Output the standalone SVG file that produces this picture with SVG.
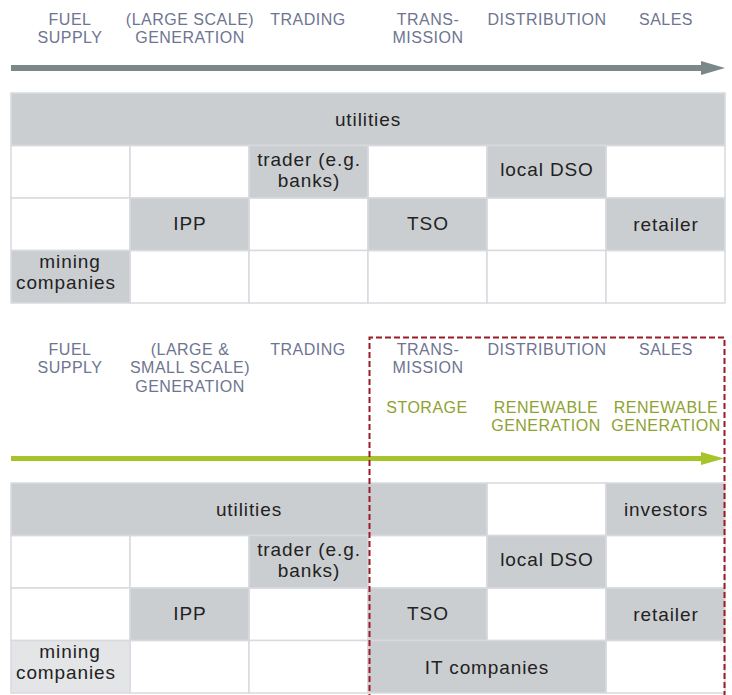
<svg xmlns="http://www.w3.org/2000/svg" width="732" height="695" viewBox="0 0 732 695">
<style>
.hd{font-family:"Liberation Sans",Arial,sans-serif;font-size:16px;fill:#6e7591;letter-spacing:0.5px;text-anchor:middle}
.gr{font-family:"Liberation Sans",Arial,sans-serif;font-size:16px;fill:#8ea230;letter-spacing:0.5px;text-anchor:middle}
.lb{font-family:"Liberation Sans",Arial,sans-serif;font-size:19px;fill:#222;letter-spacing:0.9px;text-anchor:middle}
.w{fill:#fff;stroke:#d8dae0;stroke-width:1.5}
.g{fill:#cbced1;stroke:#d8dae0;stroke-width:1.5}
.lg{fill:#e3e5e6;stroke:#d8dae0;stroke-width:1.5}
</style>
<rect width="732" height="695" fill="#fff"/>

<g id="headers-top">
<text class="hd" x="70" y="25">FUEL</text><text class="hd" x="70" y="43">SUPPLY</text>
<text class="hd" x="190" y="25">(LARGE SCALE)</text><text class="hd" x="190" y="43">GENERATION</text>
<text class="hd" x="308" y="25">TRADING</text>
<text class="hd" x="428" y="25">TRANS-</text><text class="hd" x="428" y="43">MISSION</text>
<text class="hd" x="547" y="25">DISTRIBUTION</text>
<text class="hd" x="666" y="25">SALES</text>
</g>

<g id="table-top">
<rect class="w" x="11" y="145.5" width="119" height="52.5"/>
<rect class="w" x="130" y="145.5" width="119" height="52.5"/>
<rect class="w" x="368" y="145.5" width="119" height="52.5"/>
<rect class="w" x="606" y="145.5" width="119" height="52.5"/>
<rect class="w" x="11" y="198" width="119" height="52.5"/>
<rect class="w" x="249" y="198" width="119" height="52.5"/>
<rect class="w" x="487" y="198" width="119" height="52.5"/>
<rect class="w" x="130" y="250.5" width="119" height="52.5"/>
<rect class="w" x="249" y="250.5" width="119" height="52.5"/>
<rect class="w" x="368" y="250.5" width="119" height="52.5"/>
<rect class="w" x="487" y="250.5" width="119" height="52.5"/>
<rect class="w" x="606" y="250.5" width="119" height="52.5"/>
</g>
<g id="t-utilities"><rect class="g" x="11" y="93" width="714" height="52.5"/><text class="lb" x="368" y="125.5">utilities</text></g>
<g id="t-trader"><rect class="g" x="249" y="145.5" width="119" height="52.5"/><text class="lb" x="309" y="166">trader (e.g.</text><text class="lb" x="309" y="187">banks)</text></g>
<g id="t-dso"><rect class="g" x="487" y="145.5" width="119" height="52.5"/><text class="lb" x="547" y="176">local DSO</text></g>
<g id="t-ipp"><rect class="g" x="130" y="198" width="119" height="52.5"/><text class="lb" x="190" y="230">IPP</text></g>
<g id="t-tso"><rect class="g" x="368" y="198" width="119" height="52.5"/><text class="lb" x="428" y="230">TSO</text></g>
<g id="t-retailer"><rect class="g" x="606" y="198" width="119" height="52.5"/><text class="lb" x="666" y="231">retailer</text></g>
<g id="t-mining"><rect class="g" x="11" y="250.5" width="119" height="52.5"/><text class="lb" x="70" y="268">mining</text><text class="lb" x="66" y="289">companies</text></g>

<g id="headers-bottom">
<text class="hd" x="70" y="355">FUEL</text><text class="hd" x="70" y="373">SUPPLY</text>
<text class="hd" x="190" y="355">(LARGE &amp;</text><text class="hd" x="190" y="373">SMALL SCALE)</text><text class="hd" x="190" y="392">GENERATION</text>
<text class="hd" x="308" y="355">TRADING</text>
<text class="hd" x="428" y="355">TRANS-</text><text class="hd" x="428" y="373">MISSION</text>
<text class="hd" x="547" y="355">DISTRIBUTION</text>
<text class="hd" x="666" y="355">SALES</text>
<text class="gr" x="427" y="413">STORAGE</text>
<text class="gr" x="546" y="413">RENEWABLE</text><text class="gr" x="546" y="431">GENERATION</text>
<text class="gr" x="666" y="413">RENEWABLE</text><text class="gr" x="666" y="431">GENERATION</text>
</g>

<g id="table-bottom">
<rect class="w" x="487" y="483" width="119" height="52.5"/>
<rect class="w" x="11" y="535.5" width="119" height="52.5"/>
<rect class="w" x="130" y="535.5" width="119" height="52.5"/>
<rect class="w" x="368" y="535.5" width="119" height="52.5"/>
<rect class="w" x="606" y="535.5" width="119" height="52.5"/>
<rect class="w" x="11" y="588" width="119" height="52.5"/>
<rect class="w" x="249" y="588" width="119" height="52.5"/>
<rect class="w" x="487" y="588" width="119" height="52.5"/>
<rect class="w" x="130" y="640.5" width="119" height="52.5"/>
<rect class="w" x="249" y="640.5" width="119" height="52.5"/>
<rect class="w" x="606" y="640.5" width="119" height="52.5"/>
</g>
<g id="b-utilities"><rect class="g" x="11" y="483" width="476" height="52.5"/><text class="lb" x="249" y="515.5">utilities</text></g>
<g id="b-investors"><rect class="g" x="606" y="483" width="119" height="52.5"/><text class="lb" x="666" y="515.5">investors</text></g>
<g id="b-trader"><rect class="g" x="249" y="535.5" width="119" height="52.5"/><text class="lb" x="309" y="556">trader (e.g.</text><text class="lb" x="309" y="577">banks)</text></g>
<g id="b-dso"><rect class="g" x="487" y="535.5" width="119" height="52.5"/><text class="lb" x="547" y="566">local DSO</text></g>
<g id="b-ipp"><rect class="g" x="130" y="588" width="119" height="52.5"/><text class="lb" x="190" y="620">IPP</text></g>
<g id="b-tso"><rect class="g" x="368" y="588" width="119" height="52.5"/><text class="lb" x="428" y="620">TSO</text></g>
<g id="b-retailer"><rect class="g" x="606" y="588" width="119" height="52.5"/><text class="lb" x="666" y="621">retailer</text></g>
<g id="b-mining"><rect class="lg" x="11" y="640.5" width="119" height="52.5"/><text class="lb" x="70" y="658">mining</text><text class="lb" x="66" y="679">companies</text></g>
<g id="b-it"><rect class="g" x="368" y="640.5" width="238" height="52.5"/><text class="lb" x="487" y="674">IT companies</text></g>

<g id="connectors">
<line x1="11" y1="68" x2="703" y2="68" stroke="#7b8889" stroke-width="6"/>
<polygon points="701,61 725,68 701,75" fill="#7b8889"/>
<line x1="11" y1="458.5" x2="703" y2="458.5" stroke="#a6c52b" stroke-width="5"/>
<polygon points="701,452 724,458.5 701,465" fill="#a6c52b"/>
</g>

<g id="focus-box">
<path d="M369.5,700 V337.5 H724.5 V700" fill="none" stroke="#9c1b27" stroke-width="2" stroke-dasharray="6 3"/>
</g>
</svg>
